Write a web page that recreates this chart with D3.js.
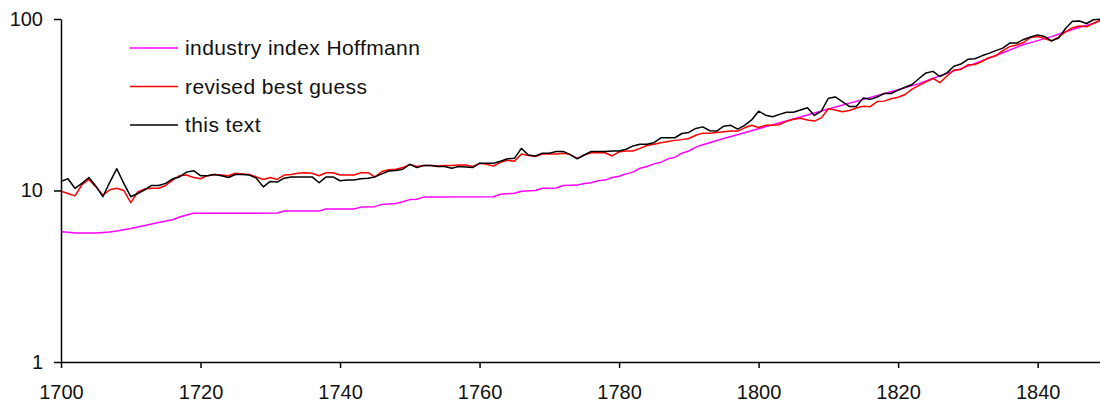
<!DOCTYPE html>
<html>
<head>
<meta charset="utf-8">
<script src="https://cdn.jsdelivr.net/npm/d3@7"></script>
<style>
  body { margin: 0; background: #fff; }
  svg { display: block; }
  text { font-family: "Liberation Sans", Arial, sans-serif; }
</style>
</head>
<body>
<script>
// industrial output index, log scale, 1700 = first year of the yearly series
const firstYear = 1700;

const thisText = [
  11.3, 11.7, 10.3, 11.0, 11.9, 10.6, 9.2, 11.2, 13.4, 11.0,
  9.2, 9.6, 10.1, 10.7, 10.7, 11.0, 11.7, 12.0, 12.8, 13.05,
  12.2, 12.2, 12.4, 12.2, 11.9, 12.4, 12.4, 12.3, 11.8, 10.5,
  11.3, 11.2, 11.8, 12.0, 12.0, 12.0, 12.0, 11.1, 12.0, 12.0,
  11.4, 11.5, 11.5, 11.7, 11.8, 12.0, 12.5, 13.0, 13.1, 13.3,
  14.2, 13.6, 14.0, 14.0, 13.8, 13.8, 13.5, 13.8, 13.7, 13.6,
  14.4, 14.4, 14.4, 14.8, 15.3, 15.4, 17.6, 16.1, 15.9, 16.5,
  16.5, 16.9, 16.9, 16.2, 15.3, 16.1, 16.9, 16.9, 16.9, 17.0,
  17.0, 17.4, 18.2, 18.6, 18.6, 19.0, 20.3, 20.3, 20.3, 21.5,
  21.8, 23.0, 23.5, 22.3, 22.2, 23.7, 24.0, 22.8, 24.0, 25.8,
  29.0, 27.5, 26.9, 27.8, 28.6, 28.6, 29.5, 30.4, 27.4, 29.0,
  34.5, 35.1, 33.0, 30.9, 30.9, 34.6, 34.0, 35.1, 36.8, 36.8,
  38.5, 40.0, 41.5, 45.0, 48.5, 49.5, 46.2, 48.5, 53.0, 54.6,
  58.2, 58.6, 61.0, 63.0, 65.4, 67.6, 72.4, 72.4, 76.0, 78.5,
  80.8, 79.0, 74.5, 77.5, 88.0, 97.0, 97.3, 94.1, 99.0, 99.7
];

const bestGuess = [
  9.9, 9.6, 9.3, 10.8, 11.6, 10.5, 9.4, 10.1, 10.3, 10.0,
  8.5, 9.8, 10.2, 10.3, 10.3, 10.7, 11.5, 12.2, 12.3, 11.9,
  11.7, 12.2, 12.4, 12.3, 12.2, 12.6, 12.5, 12.4, 12.0, 11.6,
  11.9, 11.6, 12.3, 12.4, 12.6, 12.7, 12.6, 12.2, 12.7, 12.7,
  12.3, 12.3, 12.3, 12.7, 12.7, 12.0, 12.9, 13.2, 13.3, 13.6,
  14.2, 13.8, 14.0, 14.0, 13.9, 14.0, 14.0, 14.1, 14.1, 13.8,
  14.4, 14.2, 13.9, 14.6, 15.0, 14.8, 16.3, 16.0, 15.8, 16.3,
  16.3, 16.3, 16.5, 16.2, 15.4, 16.1, 16.6, 16.6, 16.6, 15.9,
  16.8, 17.0, 17.0, 17.6, 18.3, 18.6, 19.0, 19.3, 19.6, 19.8,
  20.1, 21.0, 21.6, 21.6, 21.8, 22.0, 22.2, 22.2, 23.2, 24.0,
  23.3, 24.0, 24.0, 24.2, 25.3, 26.0, 26.4, 25.8, 25.4, 26.5,
  30.0, 29.5, 28.8, 29.3, 30.3, 31.0, 30.8, 33.0, 33.2, 34.3,
  35.0, 36.3, 39.0, 41.0, 43.0, 45.0, 42.5, 46.5, 50.4, 50.8,
  54.1, 54.3, 56.5, 59.5, 61.0, 65.4, 69.0, 70.5, 73.0, 78.0,
  79.0, 77.0, 74.5, 78.5, 84.0, 89.0, 91.0, 90.0, 94.5, 98.0
];

// Hoffmann index is smooth, read at its break points
const hoffYears = [
  1700, 1701, 1702, 1705, 1707, 1708, 1710, 1712, 1714, 1716, 1717, 1718, 1719,
  1725, 1731, 1732, 1737, 1738, 1742, 1743, 1745, 1746, 1748, 1749, 1750, 1751,
  1752, 1762, 1763, 1765, 1766, 1768, 1769, 1771, 1772, 1774, 1775, 1776, 1777,
  1778, 1779, 1780, 1781, 1782, 1783, 1784, 1785, 1786, 1787, 1788, 1789, 1790,
  1791, 1792, 1795, 1800, 1805, 1810, 1815, 1820, 1823, 1825, 1827, 1830, 1833,
  1835, 1838, 1840, 1842, 1844, 1846, 1848, 1849
];
const hoffValues = [
  5.75, 5.7, 5.65, 5.65, 5.72, 5.8, 6.0, 6.25, 6.5, 6.75, 7.0, 7.2, 7.36,
  7.36, 7.4, 7.6, 7.6, 7.8, 7.8, 8.0, 8.05, 8.3, 8.4, 8.6, 8.85, 8.9,
  9.15, 9.2, 9.5, 9.65, 9.9, 10.0, 10.3, 10.35, 10.7, 10.75, 11.0, 11.1, 11.4,
  11.5, 11.9, 12.1, 12.5, 12.8, 13.5, 13.8, 14.3, 14.6, 15.3, 15.6, 16.5, 17.0,
  17.9, 18.5, 20.1, 22.9, 26.1, 29.9, 34.0, 38.7, 42.0, 45.1, 48.2, 53.1, 59.0,
  63.6, 71.0, 74.8, 78.9, 84.2, 89.5, 94.1, 98.0
];

const xTicks = [1700, 1720, 1740, 1760, 1780, 1800, 1820, 1840];
const yTicks = [1, 10, 100];

const series = [
  {name: "industry index Hoffmann", color: "#ff00ff",
   points: hoffYears.map((yr, i) => [yr, hoffValues[i]])},
  {name: "revised best guess", color: "#ff0000",
   points: bestGuess.map((v, i) => [firstYear + i, v])},
  {name: "this text", color: "#000000",
   points: thisText.map((v, i) => [firstYear + i, v])}
];

const width = 1100, height = 409;
const margin = {top: 19, left: 61, bottom: 47};

const x = d3.scaleLinear()
    .domain([1700, 1849])
    .range([margin.left, margin.left + 149 * 6.976]);

const y = d3.scaleLog()
    .domain([1, 100])
    .range([height - margin.bottom, margin.top]);

const svg = d3.select("body").append("svg")
    .attr("width", width)
    .attr("height", height);

const line = d3.line()
    .x(d => x(d[0]))
    .y(d => y(d[1]));

svg.append("g")
  .selectAll("path")
  .data(series)
  .join("path")
    .attr("fill", "none")
    .attr("stroke", d => d.color)
    .attr("stroke-width", 1.5)
    .attr("stroke-linejoin", "round")
    .attr("d", d => line(d.points));

svg.append("g")
    .attr("transform", `translate(0,${height - margin.bottom})`)
    .call(d3.axisBottom(x).tickValues(xTicks).tickFormat(d3.format("d"))
      .tickSize(6).tickSizeOuter(0).tickPadding(17))
    .call(g => g.selectAll("path, line").attr("stroke", "#000").attr("stroke-width", 1.5))
    .call(g => g.selectAll("text").attr("font-size", 20).attr("fill", "#111")
      .attr("font-family", "'Liberation Sans', Arial, sans-serif"));

svg.append("g")
    .attr("transform", `translate(${margin.left},0)`)
    .call(d3.axisLeft(y).tickValues(yTicks).tickFormat(d3.format("d"))
      .tickSize(7).tickSizeOuter(0).tickPadding(11))
    .call(g => g.selectAll("path, line").attr("stroke", "#000").attr("stroke-width", 1.5))
    .call(g => g.selectAll("text").attr("font-size", 20).attr("fill", "#111")
      .attr("font-family", "'Liberation Sans', Arial, sans-serif"));

// legend
const legend = svg.append("g")
  .selectAll("g")
  .data(series)
  .join("g")
    .attr("transform", (d, i) => `translate(130,${48 + i * 38.5})`);

legend.append("line")
    .attr("x2", 48)
    .attr("stroke", d => d.color)
    .attr("stroke-width", 1.5);

legend.append("text")
    .attr("x", 55)
    .attr("dy", "0.35em")
    .attr("font-size", 21)
    .attr("letter-spacing", 0.4)
    .attr("fill", "#111")
    .text(d => d.name);
</script>
</body>
</html>
